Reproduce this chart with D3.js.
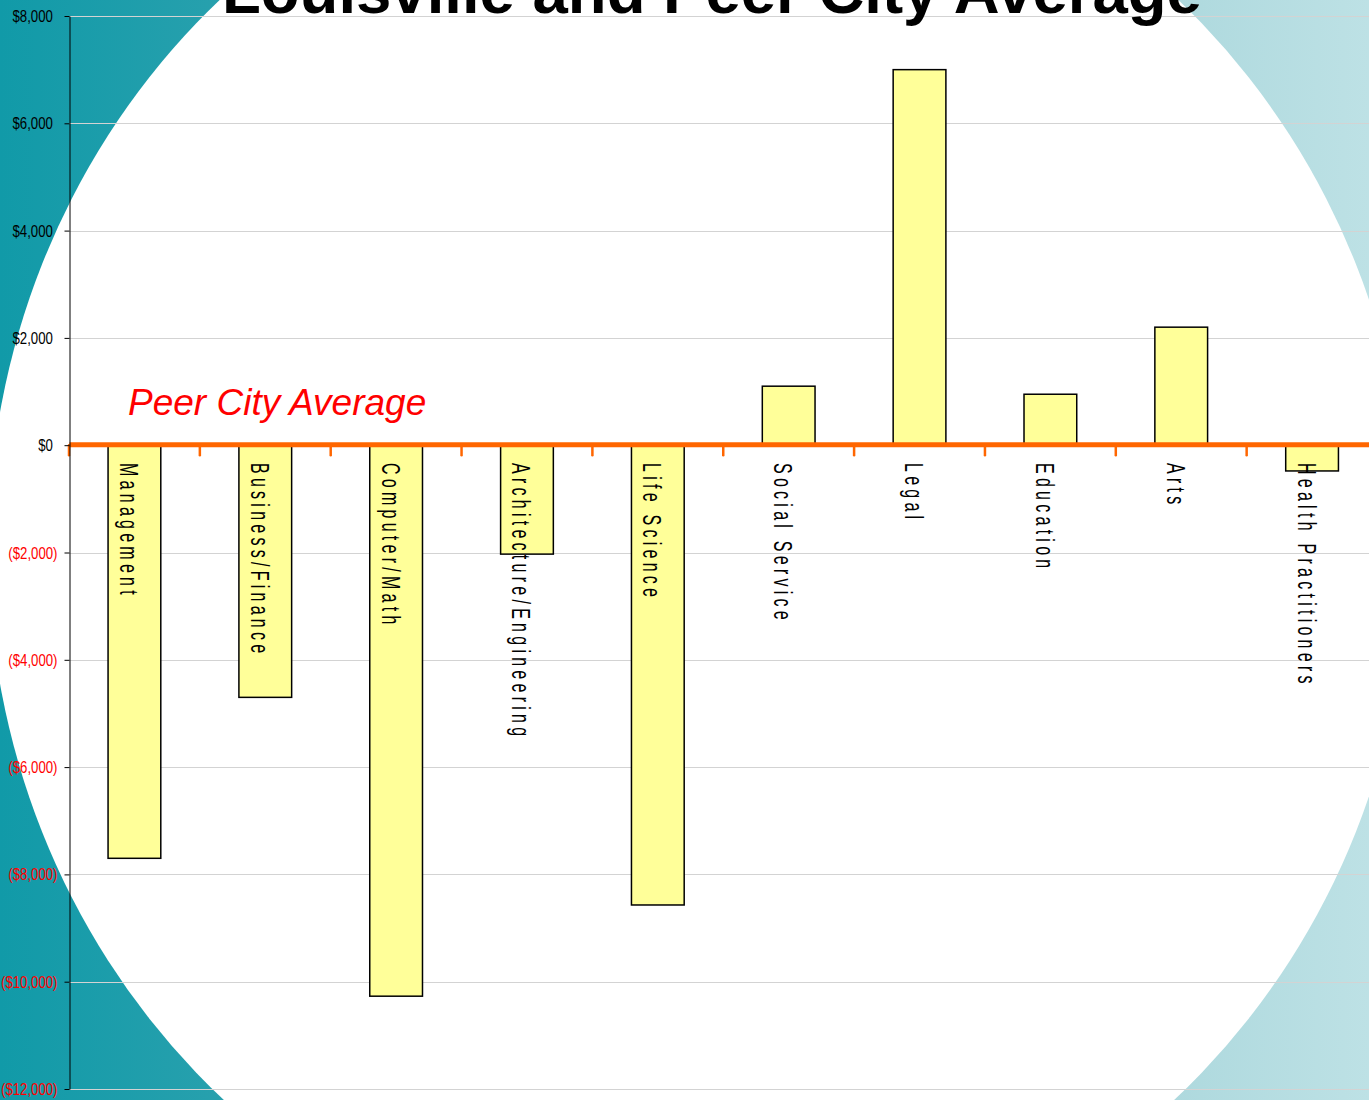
<!DOCTYPE html>
<html>
<head>
<meta charset="utf-8">
<script src="https://cdn.jsdelivr.net/npm/d3@7"></script>
<style>
  html, body { margin: 0; padding: 0; background: #fff; }
  svg { display: block; }
</style>
</head>
<body>
<script>
// ---- data ----
const title = "Louisville and Peer City Average";
const refLabel = "Peer City Average";
const categories = ["Management", "Business/Finance", "Computer/Math", "Architecture/Engineering",
  "Life Science", "Social Service", "Legal", "Education", "Arts", "Health Practitioners"];
const values = [-7700, -4700, -10270, -2030, -8570, 1100, 7000, 950, 2200, -480];
const yTicks = [8000, 6000, 4000, 2000, 0, -2000, -4000, -6000, -8000, -10000, -12000];

// ---- layout ----
const W = 1369, H = 1100;
const svg = d3.select("body").append("svg").attr("width", W).attr("height", H);

const defs = svg.append("defs");
const grad = defs.append("linearGradient").attr("id", "bg").attr("x1", 0).attr("x2", 1).attr("y1", 0).attr("y2", 0);
[[0, "#119aa8"], [0.18, "#2aa1ae"], [0.82, "#aad7dc"], [1, "#bde1e5"]].forEach(([o, c]) =>
  grad.append("stop").attr("offset", o).attr("stop-color", c));

svg.append("rect").attr("width", W).attr("height", H).attr("fill", "url(#bg)");
svg.append("ellipse").attr("cx", 699).attr("cy", 548).attr("rx", 711).attr("ry", 742).attr("fill", "#fff");

const x = d3.scaleBand().domain(categories).range([69, 1377.5]).paddingInner(0.597).paddingOuter(0.2985);
const y = d3.scaleLinear().domain([-12000, 8000]).range([1089, 16]);
const axisX = 69.5;

// gridlines
svg.append("g").selectAll("line").data(yTicks.filter(d => d !== 0)).join("line")
  .attr("x1", axisX).attr("x2", W)
  .attr("y1", d => Math.round(y(d)) + 0.5).attr("y2", d => Math.round(y(d)) + 0.5)
  .attr("stroke", "#d3d3d3").attr("stroke-width", 1);

// bars
svg.append("g").selectAll("rect").data(categories).join("rect")
  .attr("x", d => x(d))
  .attr("width", x.bandwidth())
  .attr("y", (d, i) => y(Math.max(0, values[i])))
  .attr("height", (d, i) => Math.abs(y(values[i]) - y(0)))
  .attr("fill", "#ffff99").attr("stroke", "#000").attr("stroke-width", 1.5);

// zero (peer city average) line
const bounds = categories.map(c => x(c) - x.step() * x.paddingInner() / 2);
bounds.push(x(categories[categories.length - 1]) + x.bandwidth() + x.step() * x.paddingInner() / 2);
svg.append("g").selectAll("line").data(bounds).join("line")
  .attr("x1", d => d).attr("x2", d => d)
  .attr("y1", y(0)).attr("y2", y(0) + 10)
  .attr("stroke", "#ff6600").attr("stroke-width", 2.5).attr("stroke-linecap", "round");
svg.append("line").attr("x1", axisX).attr("x2", W).attr("y1", y(0) - 0.5).attr("y2", y(0) - 0.5)
  .attr("stroke", "#ff6600").attr("stroke-width", 5);

// category labels (rotated, spaced)
svg.append("g").selectAll("text").data(categories).join("text")
  .attr("transform", d => `translate(${x(d) + x.bandwidth() / 2 - 14.5},463) rotate(90) scale(0.82,1.3)`)
  .attr("font-family", "'Liberation Sans', Arial, sans-serif")
  .attr("font-size", 19.5)
  .attr("letter-spacing", 5.2)
  .attr("fill", "#000")
  .text(d => d);

// y axis
const fmt = d3.format(",");
const yAxis = d3.axisLeft(y).tickValues(yTicks).tickSize(5).tickSizeOuter(0).tickPadding(7)
  .tickFormat(v => v < 0 ? `($${fmt(-v)})` : `$${fmt(v)}`);
const ga = svg.append("g").attr("transform", `translate(${axisX},0)`).call(yAxis);
ga.select(".domain").attr("stroke", "#000").attr("stroke-width", 1);
ga.selectAll(".tick line").attr("stroke", "#000");
ga.selectAll(".tick text")
  .attr("x", 0)
  .attr("transform", "translate(-12,0) scale(0.8,1.05)")
  .attr("font-family", "'Liberation Sans', Arial, sans-serif")
  .attr("font-size", 16.5)
  .attr("fill", d => d < 0 ? "#ff0000" : "#000")
  .attr("dx", d => d < 0 ? 0 : -5.8);

// title
svg.append("text").attr("x", 712).attr("y", 13).attr("text-anchor", "middle")
  .attr("font-family", "'Liberation Sans', Arial, sans-serif").attr("font-weight", "bold")
  .attr("font-size", 63.5).attr("fill", "#000").text(title);

// reference label
svg.append("text").attr("x", 128).attr("y", 415)
  .attr("font-family", "'Liberation Sans', Arial, sans-serif").attr("font-style", "italic")
  .attr("font-size", 37).attr("fill", "#ff0000").text(refLabel);
</script>
</body>
</html>
